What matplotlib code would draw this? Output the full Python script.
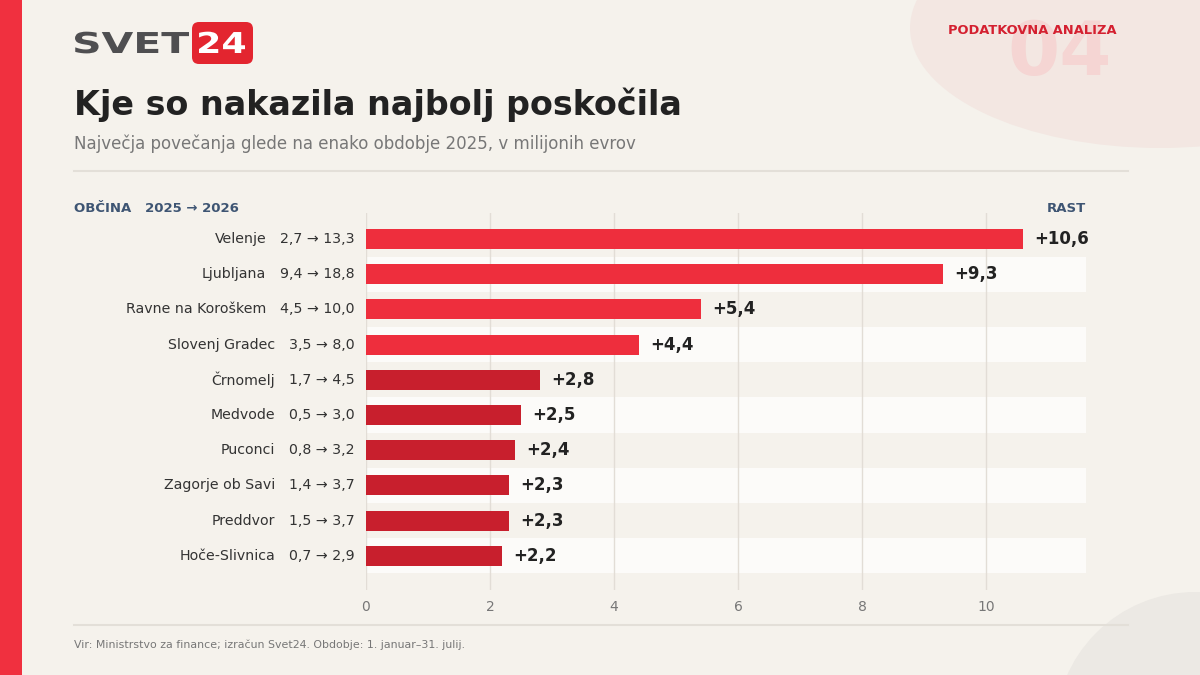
import matplotlib.pyplot as plt
import matplotlib.patches as patches
from matplotlib.textpath import TextPath
from matplotlib.font_manager import FontProperties
from matplotlib.transforms import Affine2D

# podatki
obcine = ['Velenje', 'Ljubljana', 'Ravne na Koroškem', 'Slovenj Gradec', 'Črnomelj',
          'Medvode', 'Puconci', 'Zagorje ob Savi', 'Preddvor', 'Hoče-Slivnica']
leto_2025 = ['2,7', '9,4', '4,5', '3,5', '1,7', '0,5', '0,8', '1,4', '1,5', '0,7']
leto_2026 = ['13,3', '18,8', '10,0', '8,0', '4,5', '3,0', '3,2', '3,7', '3,7', '2,9']
rast = [10.6, 9.3, 5.4, 4.4, 2.8, 2.5, 2.4, 2.3, 2.3, 2.2]
ticks = [0, 2, 4, 6, 8, 10]

BG = '#f5f2ec'
RED = '#ee2e3d'
DARK_RED = '#c81f2d'
NAVY = '#3e5573'
W, H = 1200, 675


def fx(x):
    return x / W


def fy(y):
    return 1 - y / H


def logo_text(ax, s, x0, base, width, cap, color):
    # raztegnjeno besedilo za logotip
    tp = TextPath((0, 0), s, size=100, prop=FontProperties(family='DejaVu Sans', weight='bold'))
    ext = tp.get_extents()
    sx = width / ext.width
    sy = cap / 73.0
    tr = Affine2D().translate(-ext.x0, 0).scale(sx, -sy).translate(x0, base)
    ax.add_patch(patches.PathPatch(tr.transform_path(tp), facecolor=color, edgecolor='none'))


fig = plt.figure(figsize=(12, 6.75), dpi=100)
fig.set_facecolor(BG)

# ozadje in okraski v pikslih
bg = fig.add_axes([0, 0, 1, 1])
bg.set_xlim(0, W)
bg.set_ylim(H, 0)
bg.axis('off')
bg.add_patch(patches.Ellipse((1160, 28), 500, 240, facecolor='#f3e7e2', edgecolor='none'))
bg.add_patch(patches.Circle((1195, 732), 140, facecolor='#ece9e4', edgecolor='none'))
bg.add_patch(patches.Rectangle((0, 0), 22, H, facecolor='#f0303f', edgecolor='none'))
bg.plot([74, 1128], [171, 171], color='#e3dfd8', lw=1.5)
bg.plot([74, 1128], [625, 625], color='#e3dfd8', lw=1.5)

# logo
logo_text(bg, 'SVET', 75, 53, 114, 21, '#4f4f51')
bg.add_patch(patches.FancyBboxPatch((192, 22), 61, 42, boxstyle='round,pad=0,rounding_size=7',
                                    facecolor='#e3252f', edgecolor='none'))
logo_text(bg, '24', 199, 53, 46, 21, 'white')

bg.text(1060, 55, '04', fontsize=54, fontweight='bold', color='#f5d5d3', va='center', ha='center')
bg.text(1116, 31, 'PODATKOVNA ANALIZA', fontsize=9.4, fontweight='bold', color='#d42030',
        va='center', ha='right')

bg.text(74, 105, 'Kje so nakazila najbolj poskočila', fontsize=24, fontweight='bold',
        color='#222222', va='center', ha='left')
bg.text(74, 144, 'Največja povečanja glede na enako obdobje 2025, v milijonih evrov',
        fontsize=12, color='#777777', va='center', ha='left')
bg.text(74, 208, 'OBČINA   2025 → 2026', fontsize=9.5, fontweight='bold', color=NAVY,
        va='center', ha='left')
bg.text(1086, 208, 'RAST', fontsize=9.5, fontweight='bold', color=NAVY, va='center', ha='right')
bg.text(74, 645, 'Vir: Ministrstvo za finance; izračun Svet24. Obdobje: 1. januar–31. julij.',
        fontsize=7.9, color='#777777', va='center', ha='left')

# graf
ax = fig.add_axes([fx(366), fy(590), fx(1086 - 366), (590 - 213) / H])
ax.set_facecolor('none')
xmax = (1086 - 366) / 62
ax.set_xlim(0, xmax)
ax.set_ylim(len(obcine) - 1 + 0.97, -0.74)

for i in range(len(obcine)):
    if i % 2 == 1:
        ax.axhspan(i - 0.5, i + 0.5, color='#fcfbf9', zorder=0, lw=0)

for t in ticks:
    ax.axvline(t, color='#e2ddd6', lw=1, zorder=1)

barve = [RED if i < 4 else DARK_RED for i in range(len(obcine))]
ypos = list(range(len(obcine)))
ax.barh(ypos, rast, height=0.57, color=barve, zorder=2)

for i, v in enumerate(rast):
    ax.text(v + 0.18, i, '+' + f'{v:.1f}'.replace('.', ','), fontsize=12, fontweight='bold',
            color='#222222', va='center', ha='left', zorder=3)
    vt = ax.text(-0.18, i, f'{leto_2025[i]} → {leto_2026[i]}', fontsize=10.2,
                 color='#333333', va='center', ha='right')
    ax.annotate(obcine[i], xy=(0, 0.5), xycoords=vt, xytext=(-14, 0),
                textcoords='offset pixels', fontsize=10.2, color='#333333',
                va='center', ha='right')

ax.set_xticks(ticks)
ax.set_xticklabels([str(t) for t in ticks])
ax.set_yticks([])
ax.tick_params(axis='x', length=0, pad=7, labelsize=10, labelcolor='#777777')
for s in ax.spines.values():
    s.set_visible(False)

fig.savefig('out.png', dpi=100, facecolor=BG)
